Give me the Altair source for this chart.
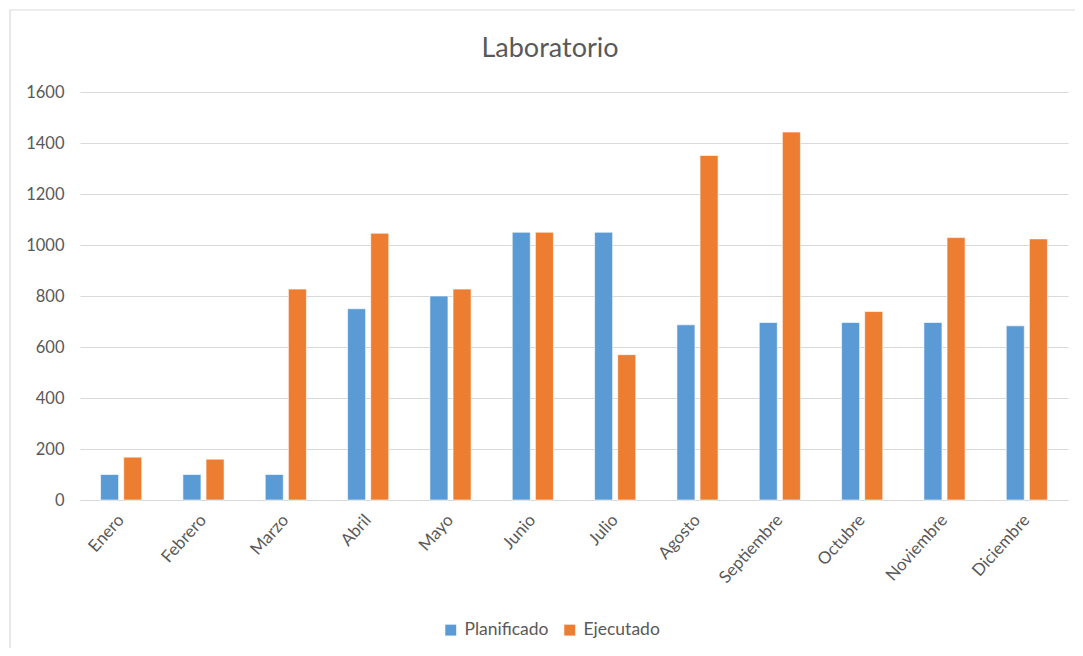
import altair as alt
import pandas as pd

months = ["Enero", "Febrero", "Marzo", "Abril", "Mayo", "Junio", "Julio",
          "Agosto", "Septiembre", "Octubre", "Noviembre", "Diciembre"]
planificado = [100, 100, 100, 750, 800, 1050, 1050, 687, 696, 696, 696, 683]
ejecutado = [168, 160, 827, 1046, 827, 1050, 570, 1351, 1443, 739, 1029, 1024]
series = ["Planificado", "Ejecutado"]
colors = ["#5B9BD5", "#ED7D31"]
y_ticks = [0, 200, 400, 600, 800, 1000, 1200, 1400, 1600]
title_text = "Laboratorio"

rows = []
for i, m in enumerate(months):
    rows.append({"Mes": m, "Serie": series[0], "Valor": planificado[i]})
    rows.append({"Mes": m, "Serie": series[1], "Valor": ejecutado[i]})
df = pd.DataFrame(rows)

FONT = "Lato"
W, H = 988, 408

bars = alt.Chart(df).mark_bar(stroke="white", strokeWidth=0.6).encode(
    x=alt.X("Mes:N", sort=months,
            scale=alt.Scale(paddingInner=0.5, paddingOuter=0.25),
            axis=alt.Axis(title=None, labelAngle=-48, labelAlign="right",
                          labelBaseline="middle", labelFontSize=17, labelColor="#595959",
                          labelFont=FONT, ticks=False, domainColor="#d9d9d9",
                          domainWidth=1.2, labelPadding=17, labelOffset=0)),
    xOffset=alt.XOffset("Serie:N", sort=series,
                        scale=alt.Scale(paddingInner=0.22, paddingOuter=0)),
    y=alt.Y("Valor:Q", scale=alt.Scale(domain=[0, 1600], nice=False),
            axis=alt.Axis(title=None, values=y_ticks, format="d", labelFontSize=16.5,
                          labelColor="#595959", labelFont=FONT, ticks=False,
                          domain=False, gridColor="#d9d9d9", gridWidth=1.2,
                          labelPadding=16)),
    color=alt.Color("Serie:N", sort=series,
                    scale=alt.Scale(domain=series, range=colors),
                    legend=alt.Legend(title=None, orient="none", direction="horizontal",
                                      legendX=362, legendY=529, symbolType="square",
                                      symbolSize=120, symbolStrokeWidth=0,
                                      labelFontSize=17.5, labelColor="#595959",
                                      labelFont=FONT, columnPadding=12,
                                      labelOffset=5)),
)

border = alt.Chart(pd.DataFrame({"k": [0]})).mark_rect(
    fill="transparent", stroke="#d9d9d9", strokeWidth=1.2).encode(
    x=alt.value(-70), x2=alt.value(W + 30), y=alt.value(-82), y2=alt.value(H + 200))

title = alt.Chart(pd.DataFrame({"t": [title_text]})).mark_text(
    fontSize=27, font=FONT, color="#595959", align="center", baseline="middle").encode(
    text="t:N", x=alt.value(470), y=alt.value(-43))

chart = alt.layer(border, title, bars).properties(
    width=W, height=H,
    autosize=alt.AutoSizeParams(type="none"),
    padding={"left": 72, "top": 84, "right": 7, "bottom": 148},
).configure_view(stroke=None)

chart.save("out.html", embed_options={"renderer": "svg", "actions": False})
